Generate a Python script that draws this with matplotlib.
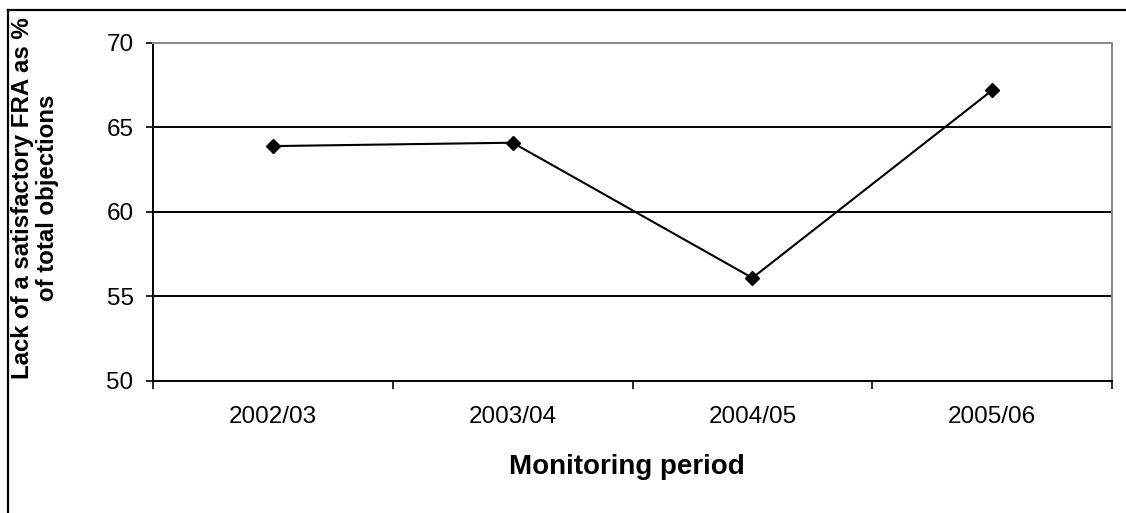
import matplotlib.pyplot as plt
from matplotlib.lines import Line2D

plt.rcParams['font.family'] = ['Liberation Sans', 'DejaVu Sans']

# Share of objections citing lack of a satisfactory FRA
periods = ['2002/03', '2003/04', '2004/05', '2005/06']
pct_fra = [63.9, 64.1, 56.1, 67.2]
y_ticks = [50, 55, 60, 65, 70]

fig = plt.figure(figsize=(11.26, 5.13), dpi=100)
ax = fig.add_axes([153 / 1126, 1 - 381 / 513, (1112 - 153) / 1126, (381 - 43) / 513])

x = list(range(len(periods)))
ax.plot(x, pct_fra, color='black', lw=1.5, marker='D', ms=7.5, mfc='black', mec='black')

# horizontal gridlines
for v in y_ticks[1:-1]:
    ax.axhline(v, color='black', lw=1.4, zorder=0)

ax.set_xlim(-0.5, len(periods) - 0.5)
ax.set_ylim(50, 70)

# category boundaries carry the tick marks, names sit between them
ax.set_xticks([i - 0.5 for i in range(len(periods) + 1)])
ax.set_xticklabels([])
ax.set_xticks(x, minor=True)
ax.set_xticklabels(periods, minor=True, fontsize=17.5)
ax.tick_params(axis='x', which='major', direction='out', length=6, width=1.2)
ax.tick_params(axis='x', which='minor', length=0, pad=18)

ax.set_yticks(y_ticks)
ax.set_yticklabels([str(v) for v in y_ticks], fontsize=17.5)
ax.tick_params(axis='y', direction='out', length=5, width=1.2, pad=9)

ax.spines['left'].set_color('black')
ax.spines['left'].set_linewidth(1.4)
ax.spines['bottom'].set_color('black')
ax.spines['bottom'].set_linewidth(1.4)
ax.spines['top'].set_color('#888888')
ax.spines['top'].set_linewidth(1.4)
ax.spines['right'].set_color('#888888')
ax.spines['right'].set_linewidth(1.4)

fig.text(626.5 / 1126, 1 - 467 / 513, 'Monitoring period', fontsize=20,
         fontweight='bold', ha='center', va='center')
fig.text(35 / 1126, 1 - 198 / 513, 'Lack of a satisfactory FRA as %\nof total objections',
         fontsize=17.3, fontweight='bold', rotation=90, ha='center', va='center',
         multialignment='center', linespacing=1.15)

# chart frame (top and left edges)
fig.add_artist(Line2D([8 / 1126, 1], [1 - 10 / 513, 1 - 10 / 513], color='black', lw=1.6,
                      transform=fig.transFigure))
fig.add_artist(Line2D([8 / 1126, 8 / 1126], [0, 1 - 10 / 513], color='black', lw=1.6,
                      transform=fig.transFigure))

fig.savefig('out.png', dpi=100)
